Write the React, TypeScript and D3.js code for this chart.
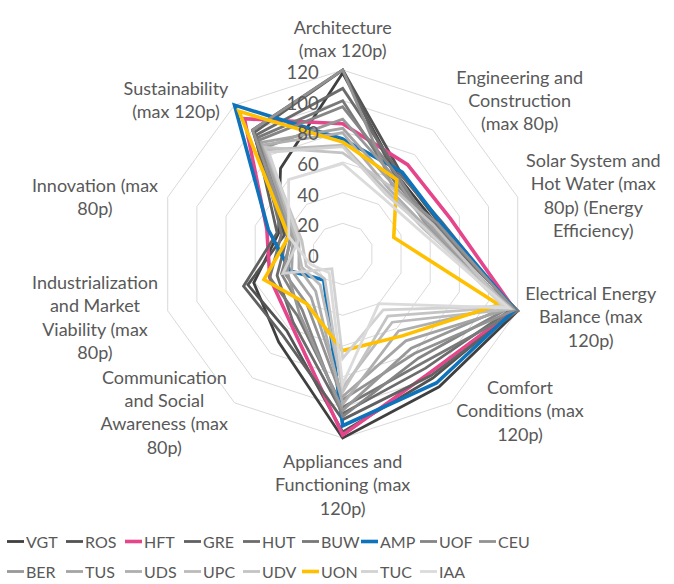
import React from "react";
import * as d3 from "d3";

const axes: string[][] = [
  ["Architecture", "(max 120p)"],
  ["Engineering and", "Construction", "(max 80p)"],
  ["Solar System and", "Hot Water (max", "80p) (Energy", "Efficiency)"],
  ["Electrical Energy", "Balance (max", "120p)"],
  ["Comfort", "Conditions (max", "120p)"],
  ["Appliances and", "Functioning (max", "120p)"],
  ["Communication", "and Social", "Awareness (max", "80p)"],
  ["Industrialization", "and Market", "Viability (max", "80p)"],
  ["Innovation (max", "80p)"],
  ["Sustainability", "(max 120p)"],
];

const ticks = [0, 20, 40, 60, 80, 100, 120];

const seriesNames = ["VGT", "ROS", "HFT", "GRE", "HUT", "BUW", "AMP", "UOF", "CEU", "BER", "TUS", "UDS", "UPC", "UDV", "UON", "TUC", "IAA"];

const seriesColors = ["#404040", "#535353", "#E5458B", "#616161", "#6C6C6C", "#787878", "#0E73BA", "#858585", "#929292", "#989898", "#A4A4A4", "#AFAFAF", "#BBBBBB", "#C4C4C4", "#FFC000", "#D2D2D2", "#DBDBDB"];

// values per series, axes in order above
const VGT = [118, 62, 64, 120, 107, 120, 71, 61, 44, 69];
const ROS = [120, 65, 66, 118, 100, 116, 62, 65, 40, 100];
const HFT = [85, 72, 74, 118, 96, 118, 57, 50, 52, 109];
const GRE = [120, 60, 62, 120, 98, 108, 66, 68, 45, 98];
const HUT = [108, 64, 68, 116, 92, 104, 55, 45, 38, 96];
const BUW = [100, 58, 63, 120, 88, 100, 50, 50, 42, 94];
const AMP = [75, 66, 67, 118, 104, 112, 21, 36, 51, 120];
const UOF = [96, 62, 60, 114, 84, 106, 45, 42, 35, 92];
const CEU = [120, 55, 65, 118, 80, 95, 40, 40, 36, 100];
const BER = [88, 60, 58, 112, 76, 102, 48, 38, 33, 86];
const TUS = [82, 56, 60, 115, 70, 93, 35, 35, 34, 90];
const UDS = [79, 52, 57, 110, 62, 98, 30, 30, 30, 88];
const UPC = [71, 50, 55, 116, 55, 87, 25, 28, 32, 84];
const UDV = [66, 54, 62, 112, 50, 90, 20, 25, 28, 86];
const UON = [73, 60, 35, 107, 66, 63, 40, 54, 37, 115];
const TUC = [70, 48, 56, 110, 45, 68, 12, 41, 30, 82];
const IAA = [59, 45, 52, 114, 40, 85, 15, 22, 37, 60];

const seriesValues = [VGT, ROS, HFT, GRE, HUT, BUW, AMP, UOF, CEU, BER, TUS, UDS, UPC, UDV, UON, TUC, IAA];
const highlighted = ["HFT", "AMP", "UON"];

const W = 674;
const H = 584;
const cx = 342.7;
const cy = 254;
const R = 184;
const FONT = "Lato, 'Open Sans', sans-serif";
const TXT = "#595959";

const labelPos: [number, number][] = [
  [342.7, 27],
  [519.7, 76.7],
  [593.3, 160],
  [590.7, 293],
  [520, 387],
  [342.7, 461],
  [164.3, 376.7],
  [95, 282],
  [95, 185],
  [176, 88],
];
const lineH = 23.3;

export default function App() {
  const r = d3.scaleLinear().domain([0, 120]).range([0, R]);
  const angle = d3.scaleLinear().domain([0, axes.length]).range([0, 2 * Math.PI]);
  const line = d3
    .lineRadial<number>()
    .angle((_, i) => angle(i))
    .radius((v) => r(v))
    .curve(d3.curveLinearClosed);

  const rings = ticks.filter((t) => t > 0);

  return (
    <svg
      width={W}
      height={H}
      style={{ position: "absolute", left: 0, top: 0, background: "#fff" }}
      fontFamily={FONT}
    >
      <g transform={`translate(${cx},${cy})`}>
        {rings.map((t) => (
          <path key={t} d={line(axes.map(() => t)) || ""} fill="none" stroke="#D9D9D9" strokeWidth={1} />
        ))}
        {seriesValues.map((vals, i) => (
          <path
            key={seriesNames[i]}
            d={line(vals) || ""}
            fill="none"
            stroke={seriesColors[i]}
            strokeWidth={highlighted.includes(seriesNames[i]) ? 3.6 : 2.8}
            strokeLinejoin="miter"
          />
        ))}
      </g>
      {ticks.map((t) => (
        <text
          key={t}
          x={cx - 24}
          y={cy - r(t) + 2}
          textAnchor="end"
          dominantBaseline="central"
          fontSize={18.5}
          fill={TXT}
        >
          {t}
        </text>
      ))}
      {axes.map((lines, i) => (
        <text key={i} textAnchor="middle" fontSize={18} fill={TXT}>
          {lines.map((l, j) => (
            <tspan key={j} x={labelPos[i][0]} y={labelPos[i][1] + j * lineH} dominantBaseline="central">
              {l}
            </tspan>
          ))}
        </text>
      ))}
      {seriesNames.map((n, i) => {
        const row = i < 9 ? 0 : 1;
        const col = row === 0 ? i : i - 9;
        const x = 7 + col * 59;
        const y = row === 0 ? 541.5 : 571.5;
        return (
          <g key={n}>
            <line
              x1={x}
              x2={x + 17}
              y1={y}
              y2={y}
              stroke={seriesColors[i]}
              strokeWidth={highlighted.includes(n) ? 3.6 : 2.8}
            />
            <text x={x + 19} y={y} dominantBaseline="central" fontSize={16} fill={TXT}>
              {n}
            </text>
          </g>
        );
      })}
    </svg>
  );
}
